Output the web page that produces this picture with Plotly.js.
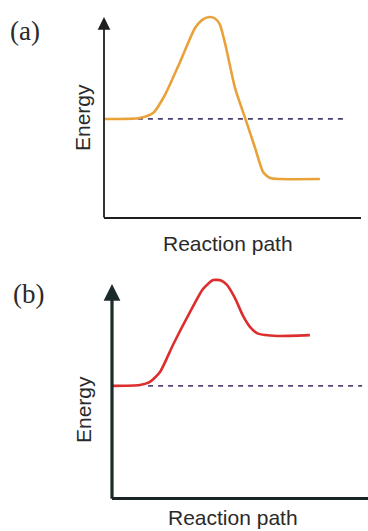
<!DOCTYPE html>
<html>
<head>
<meta charset="utf-8">
<script src="https://cdn.plot.ly/plotly-3.0.1.min.js"></script>
<style>
  html, body { margin: 0; padding: 0; background: #ffffff; }
  #chart { width: 368px; height: 531px; }
</style>
</head>
<body>
<div id="chart"></div>
<script>
// ---- Data (abstract units: reaction path 0-100, energy 0-100) ----
// Panel (a): exothermic profile
var pathA   = [0, 14.0, 19.1, 23.7, 29.6, 35.4, 38.1, 40.9, 43.2, 45.1, 47.3, 51.0, 54.9, 58.8, 61.9, 64.6, 68.5, 84.0];
var energyA = [48.3, 48.8, 51.2, 60.1, 76.4, 93.1, 97.0, 98.5, 97.8, 94.8, 84.5, 63.5, 48.8, 34.0, 22.2, 19.2, 18.7, 18.7];
var refPathA   = [9.3, 94.6];
var refEnergyA = [48.3, 48.3];

// Panel (b): endothermic profile
var pathB   = [0, 10.9, 14.8, 18.75, 23.8, 30.5, 35.5, 39.5, 42.6, 44.9, 48.0, 51.2, 53.9, 56.6, 59.8, 64.5, 77.3];
var energyB = [50.5, 50.9, 52.3, 56.8, 69.1, 84.1, 94.5, 98.6, 98.4, 96.4, 90.5, 82.3, 77.3, 74.5, 73.6, 73.2, 73.6];
var refPathB   = [14.1, 97.7];
var refEnergyB = [50.5, 50.5];

var panelLabels = ["(a)", "(b)"];
var xLabel = "Reaction path";
var yLabel = "Energy";

// ---- helpers ----
var W = 368, H = 531;
function px(x) { return x / W; }
function py(y) { return 1 - y / H; }

var traces = [
  { x: refPathA, y: refEnergyA, xaxis: 'x', yaxis: 'y', mode: 'lines',
    line: { color: '#4b3f6e', width: 1.7, dash: '5px,5px' }, hoverinfo: 'skip' },
  { x: pathA, y: energyA, xaxis: 'x', yaxis: 'y', mode: 'lines',
    line: { color: '#e9a23a', width: 2.6, shape: 'spline', smoothing: 0.6 }, hoverinfo: 'skip' },
  { x: refPathB, y: refEnergyB, xaxis: 'x2', yaxis: 'y2', mode: 'lines',
    line: { color: '#5a4577', width: 1.7, dash: '5px,5px' }, hoverinfo: 'skip' },
  { x: pathB, y: energyB, xaxis: 'x2', yaxis: 'y2', mode: 'lines',
    line: { color: '#dd2e2e', width: 2.6, shape: 'spline', smoothing: 0.6 }, hoverinfo: 'skip' }
];

var hidden = { showgrid: false, zeroline: false, showticklabels: false, ticks: '', fixedrange: true };

var layout = {
  width: W, height: H,
  margin: { l: 0, r: 0, t: 0, b: 0 },
  paper_bgcolor: '#ffffff', plot_bgcolor: 'rgba(0,0,0,0)',
  showlegend: false,
  xaxis: Object.assign({}, hidden, { domain: [px(104), px(361)], range: [0, 100], anchor: 'y',
    showline: true, linecolor: '#1e1e1e', linewidth: 2 }),
  yaxis: Object.assign({}, hidden, { domain: [py(217), py(14)], range: [0, 100], anchor: 'x', showline: false }),
  xaxis2: Object.assign({}, hidden, { domain: [px(112), 1], range: [0, 100], anchor: 'y2',
    showline: true, linecolor: '#1b2424', linewidth: 3.2 }),
  yaxis2: Object.assign({}, hidden, { domain: [py(497), py(277)], range: [0, 100], anchor: 'x2', showline: false }),
  annotations: [
    // y-axis arrows
    { x: 0, y: 98.5, xref: 'x', yref: 'y', ax: 0, ay: -1, axref: 'x', ayref: 'y',
      showarrow: true, arrowhead: 2, arrowsize: 1.4, arrowwidth: 1.8, arrowcolor: '#1e1e1e', text: '', standoff: 0 },
    { x: 0, y: 96.8, xref: 'x2', yref: 'y2', ax: 0, ay: -1.5, axref: 'x2', ayref: 'y2',
      showarrow: true, arrowhead: 2, arrowsize: 1.05, arrowwidth: 3.2, arrowcolor: '#1b2b2b', text: '', standoff: 0 },
    // panel labels
    { x: px(25), y: py(31), xref: 'paper', yref: 'paper', xanchor: 'center', yanchor: 'middle',
      text: panelLabels[0], showarrow: false,
      font: { family: 'Liberation Serif, DejaVu Serif, serif', size: 27, color: '#2a2a2a' } },
    { x: px(28), y: py(294), xref: 'paper', yref: 'paper', xanchor: 'center', yanchor: 'middle',
      text: panelLabels[1], showarrow: false,
      font: { family: 'Liberation Serif, DejaVu Serif, serif', size: 27, color: '#2a2a2a' } },
    // axis labels
    { x: px(228), y: py(243), xref: 'paper', yref: 'paper', xanchor: 'center', yanchor: 'middle',
      text: xLabel, showarrow: false,
      font: { family: 'Liberation Sans, Arial, sans-serif', size: 21, color: '#2a2a2a' } },
    { x: px(82), y: py(118), xref: 'paper', yref: 'paper', xanchor: 'center', yanchor: 'middle',
      text: yLabel, showarrow: false, textangle: -90,
      font: { family: 'Liberation Sans, Arial, sans-serif', size: 21, color: '#2a2a2a' } },
    { x: px(233), y: py(517), xref: 'paper', yref: 'paper', xanchor: 'center', yanchor: 'middle',
      text: xLabel, showarrow: false,
      font: { family: 'Liberation Sans, Arial, sans-serif', size: 21, color: '#2a2a2a' } },
    { x: px(83), y: py(410), xref: 'paper', yref: 'paper', xanchor: 'center', yanchor: 'middle',
      text: yLabel, showarrow: false, textangle: -90,
      font: { family: 'Liberation Sans, Arial, sans-serif', size: 21, color: '#2a2a2a' } }
  ]
};

Plotly.newPlot('chart', traces, layout, { staticPlot: true, displayModeBar: false });
</script>
</body>
</html>
